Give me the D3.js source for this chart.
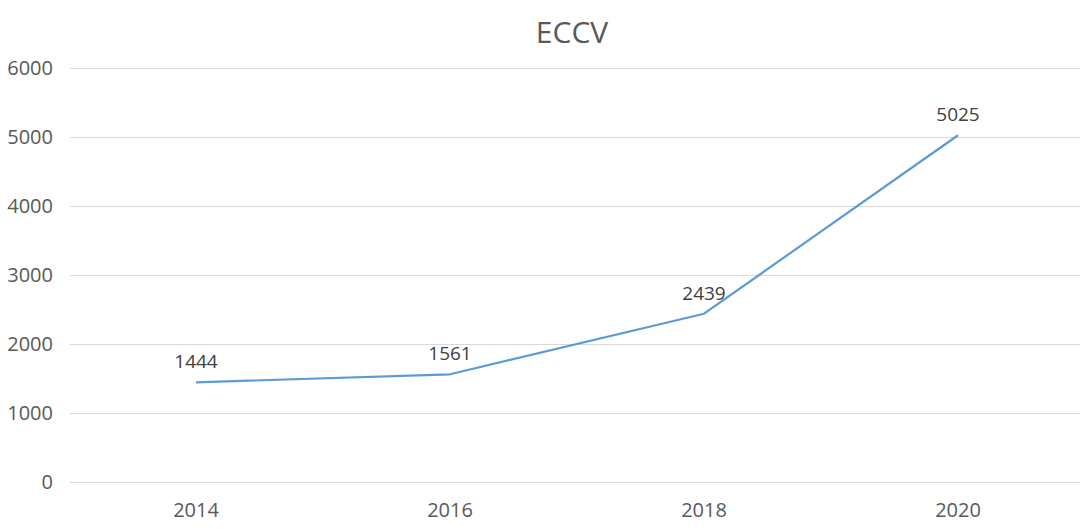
<!DOCTYPE html>
<html><head><meta charset="utf-8">
<script src="https://cdn.jsdelivr.net/npm/d3@7"></script>
<style>body{margin:0;background:#fff}svg{display:block}</style>
</head><body><svg id="c" width="1080" height="532"></svg>
<script>
const title = "ECCV";
const categories = ["2014","2016","2018","2020"];
const values = [1444,1561,2439,5025];
const yTicks = [0,1000,2000,3000,4000,5000,6000];

const svg = d3.select("#c");
const font = "'Open Sans', 'Liberation Sans', sans-serif";
const x = d3.scaleBand().domain(categories).range([69,1085]);
const y = d3.scaleLinear().domain([0,6000]).range([482,68]);
const cx = d => x(d)+x.bandwidth()/2;

svg.append("text").attr("x",572).attr("y",43).attr("text-anchor","middle")
  .attr("font-family",font).attr("font-size",30).attr("fill","#595959").text(title);

const yAxis = d3.axisLeft(y).tickValues(yTicks).tickSize(-(1080-70)).tickPadding(17).tickFormat(d3.format("d"));
const gy = svg.append("g").attr("transform","translate(70,0)").call(yAxis);
gy.select(".domain").remove();
gy.selectAll(".tick line").attr("stroke","#D9D9D9").attr("stroke-width",1);
gy.selectAll(".tick text").attr("font-family",font).attr("font-size",20).attr("fill","#595959");

const xAxis = d3.axisBottom(x).tickSize(0).tickPadding(21);
const gx = svg.append("g").attr("transform","translate(0,482)").call(xAxis);
gx.select(".domain").remove();
gx.selectAll(".tick text").attr("font-family",font).attr("font-size",20).attr("fill","#595959");

const line = d3.line().x((d,i)=>cx(categories[i])).y(d=>y(d));
svg.append("path").datum(values).attr("d",line).attr("fill","none")
  .attr("stroke","#5B9BD5").attr("stroke-width",2.2).attr("stroke-linejoin","round");

svg.selectAll(".lbl").data(values).join("text").attr("class","lbl")
  .attr("x",(d,i)=>cx(categories[i])).attr("y",d=>y(d)-14)
  .attr("text-anchor","middle").attr("font-family",font).attr("font-size",19)
  .attr("fill","#404040").text(d=>d);
</script></body></html>
